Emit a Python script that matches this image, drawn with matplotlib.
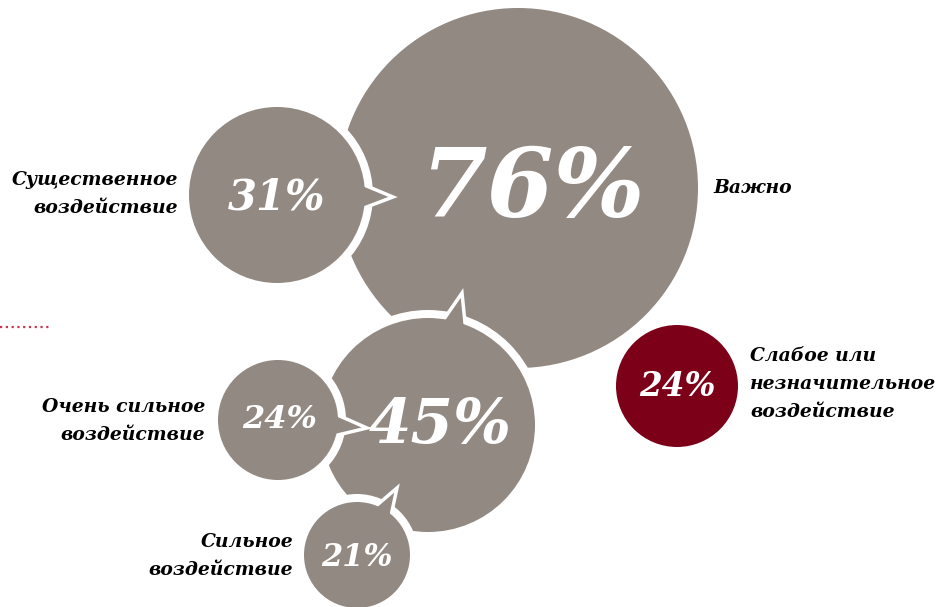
import matplotlib
matplotlib.use("Agg")
import matplotlib.pyplot as plt
from matplotlib.patches import Circle, Polygon
import numpy as np

# survey shares shown in the bubbles
values = [76, 31, 45, 24, 21, 24]
labels = ["Важно", "Существенное\nвоздействие", "", "Очень сильное\nвоздействие",
          "Сильное\nвоздействие", "Слабое или\nнезначительное\nвоздействие"]

# bubble layout in pixel coordinates (x, y, radius)
centers = [(518, 188), (277, 195), (428, 425), (278, 420), (357, 555), (677, 386)]
radii = [180, 88, 107, 60, 53, 61]
text_pos = [(532, 190), (277, 198), (440, 426), (280, 420), (357, 558), (677, 386)]
font_sizes = [69, 30, 44, 23, 22, 23.5]
colors = ["#928982"] * 5 + ["#7d0019"]

# pointer tips (bubble index -> tip point, base half-width in degrees)
pointers = {1: ((393, 197), 9), 2: ((462, 293), 7), 3: ((367, 428), 12), 4: ((397, 488), 12)}

# label anchors
label_pos = [(713, 188, "left"), (178, 194, "right"), None, (205, 421, "right"),
             (293, 556, "right"), (750, 384, "left")]

gap = 8
serif = ["DejaVu Serif"]

fig = plt.figure(figsize=(9.5, 6.07), dpi=100)
ax = fig.add_axes([0, 0, 1, 1])
ax.set_xlim(0, 950)
ax.set_ylim(607, 0)
ax.set_aspect("equal")
ax.axis("off")


def draw_bubble(i, z):
    cx, cy = centers[i]
    r = radii[i]
    if i in (1, 2, 3, 4):
        ax.add_patch(Circle((cx, cy), r + gap, facecolor="white", edgecolor="none", zorder=z))
    if i in pointers:
        (tx, ty), half = pointers[i]
        ang = np.arctan2(ty - cy, tx - cx)
        a1, a2 = ang - np.radians(half), ang + np.radians(half)
        rb = r - 4
        tri = [(cx + rb * np.cos(a1), cy + rb * np.sin(a1)), (tx, ty),
               (cx + rb * np.cos(a2), cy + rb * np.sin(a2))]
        ax.add_patch(Polygon(tri, closed=True, facecolor=colors[i], edgecolor="white",
                             linewidth=2.5, joinstyle="miter", zorder=z + 0.1))
    ax.add_patch(Circle((cx, cy), r, facecolor=colors[i], edgecolor="none", zorder=z + 0.2))
    px, py = text_pos[i]
    ax.text(px, py, f"{values[i]}%", color="white", fontsize=font_sizes[i],
            fontweight="bold", fontstyle="italic", family=serif,
            ha="center", va="center", zorder=z + 0.3)
    if label_pos[i] is not None:
        lx, ly, ha = label_pos[i]
        ax.text(lx, ly, labels[i], color="black", fontsize=13.5, fontweight="bold",
                fontstyle="italic", family=serif, ha=ha, va="center",
                linespacing=1.7, multialignment=ha, zorder=10)


for k in range(len(values)):
    draw_bubble(k, k + 1)

# dotted rule on the left edge
ax.plot([0, 50], [327, 327], color="#c8364f", linestyle=(0, (1, 1.6)), linewidth=1.6)

fig.savefig("out.png", dpi=100, facecolor="white")
